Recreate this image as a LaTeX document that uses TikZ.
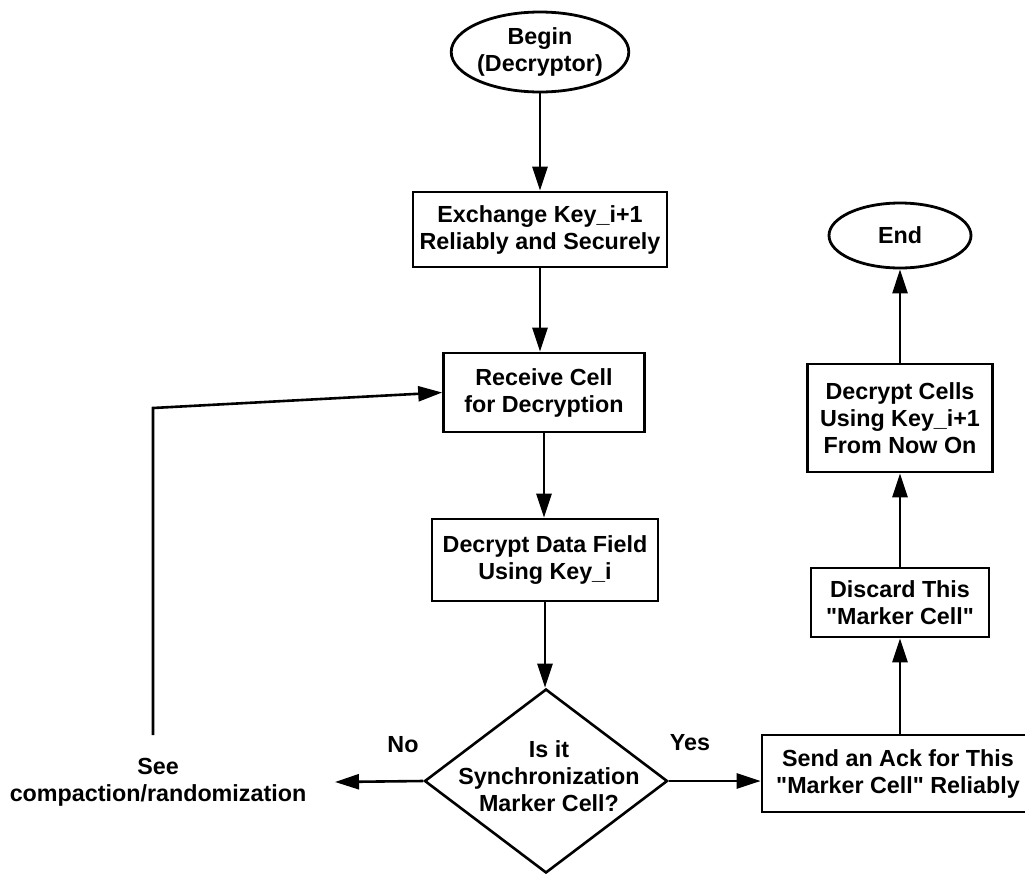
\documentclass[tikz,border=0pt]{standalone}
\usepackage{fontspec}
\newfontfamily\hv{Liberation Sans}
\usetikzlibrary{arrows.meta,shapes.geometric}
\begin{document}
\begin{tikzpicture}[x=1pt,y=-1pt,
  every node/.style={font=\hv\fontsize{23.3}{27}\selectfont\bfseries, align=center},
  box/.style={draw, line width=2.6pt, rectangle, inner sep=0pt},
  term/.style={draw, line width=2.8pt, ellipse, inner sep=0pt},
  dec/.style={draw, line width=2.6pt, diamond, inner sep=0pt},
  arr/.style={line width=2.6pt, -{Triangle[length=24pt,width=15pt]}}]
\useasboundingbox (0,0) rectangle (1025,873);
\clip (0,0) rectangle (1025,873);
% middle column
\node[term, minimum width=157, minimum height=80] (begin) at (540,52) {Begin\\(Decryptor)};
\node[box, minimum width=254, minimum height=75] (exch) at (540,229.5) {Exchange Key\_i+1\\Reliably and Securely};
\node[box, minimum width=201, minimum height=79] (recv) at (544,392.5) {Receive Cell\\for Decryption};
\node[box, minimum width=226, minimum height=82] (decr) at (545,560) {Decrypt Data Field\\Using Key\_i};
\node[dec, minimum width=243, minimum height=184] (q) at (546,781) {};
\node (qtext) at (549,776) {Is it\\Synchronization\\Marker Cell?};
% right column
\node[term, minimum width=142, minimum height=65] (end) at (900,235.5) {End};
\node[box, minimum width=185, minimum height=108] (dcells) at (900,418) {Decrypt Cells\\Using Key\_i+1\\From Now On};
\node[box, minimum width=178, minimum height=69] (discard) at (900,602.5) {Discard This\\"Marker Cell"};
\node[box, minimum width=272, minimum height=77] (send) at (898,773.5) {Send an Ack for This\\"Marker Cell" Reliably};
% left
\node (see) at (158,782) {See\\compaction/randomization};
\node (no) at (403,745) {No};
\node (yes) at (690,743) {Yes};
\coordinate (noend) at (335,782);
\coordinate (fb0) at (153,735);
\coordinate (fb1) at (153,408);
% connectors
\draw[arr] (begin.south) -- (begin.south |- exch.north);
\draw[arr] (exch.south) -- (exch.south |- recv.north);
\draw[arr] (recv.south) -- (recv.south |- decr.north);
\draw[arr] (decr.south) -- (decr.south |- q.north);
\draw[arr] (q.east) -- (q.east -| send.west);
\draw[arr] (q.west) -- (noend);
\draw[arr] (fb0) -- (fb1) -- (recv.west);
\draw[arr] (send.north -| discard.south) -- (discard.south);
\draw[arr] (discard.north) -- (dcells.south);
\draw[arr] (dcells.north) -- (end.south);
\end{tikzpicture}
\end{document}
